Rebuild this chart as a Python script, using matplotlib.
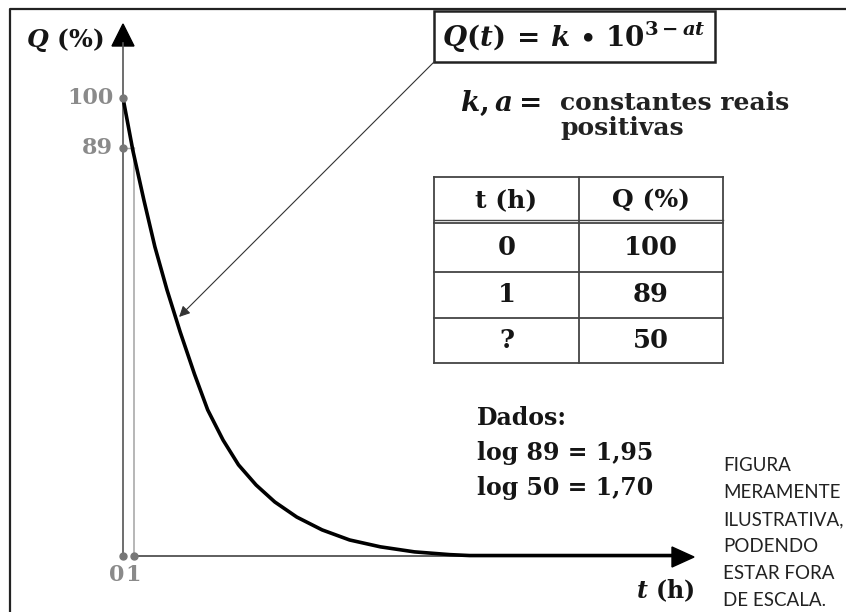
import matplotlib
matplotlib.use("Agg")
import matplotlib.pyplot as plt
import matplotlib.transforms as mtransforms
from matplotlib.patches import Polygon, Rectangle

# curve (t in hours, Q in %)
t_hours = [0, 0.9, 1.9, 2.9, 4.0, 5.2, 6.5, 7.7, 9.1, 10.5, 12.1, 13.8, 15.8,
           18.1, 20.6, 23.4, 26.5, 29.7, 31.5, 50.2]
q_pct = [100, 88.5, 77.7, 67.5, 58.1, 48.9, 39.7, 31.9, 25.3, 19.9, 15.5, 11.8,
         8.5, 5.7, 3.5, 2.0, 0.9, 0.3, 0.1, 0.1]

ytick_vals = [100, 89]
ytick_labels = ["100", "89"]
xtick_vals = [0, 1]
xtick_labels = ["0", "1"]

table_header = ["t (h)", "Q (%)"]
table_t = ["0", "1", "?"]
table_q = ["100", "89", "50"]

dados_lines = ["Dados:", "log 89 = 1,95", "log 50 = 1,70"]
aviso = "FIGURA\nMERAMENTE\nILUSTRATIVA,\nPODENDO\nESTAR FORA\nDE ESCALA."

serif = "DejaVu Serif"
plt.rcParams["mathtext.fontset"] = "custom"
plt.rcParams["mathtext.rm"] = serif + ":bold"
plt.rcParams["mathtext.bf"] = serif + ":bold"
plt.rcParams["mathtext.it"] = serif + ":bold:italic"

W, H = 846, 612
fig = plt.figure(figsize=(W / 100, H / 100), dpi=100)
ax = fig.add_axes([0, 0, 1, 1])
ax.set_axis_off()
# 11 px per hour, 4.58 px per percent, origin at pixel (123, 556)
ax.set_xlim(-123 / 11, (W - 123) / 11)
ax.set_ylim((556 - H) / 4.58, 556 / 4.58)

# pixel coords, y from top
pix = mtransforms.Affine2D().scale(1 / W, -1 / H).translate(0, 1) + fig.transFigure

gray = "#8a8a8a"
ink = "#151515"

# frame
ax.plot([10, 10, W], [H, 9, 9], color="#222", lw=1.6, transform=pix, clip_on=False)

# axes
ax.plot([0, 0], [0, 112], color="#555", lw=1.2, zorder=2)
ax.plot([1, 1], [0, 89], color="#aaa", lw=1.2, zorder=2)
ax.plot([0, 1], [89, 89], color="#aaa", lw=1.0, zorder=2)
ax.plot([1, 49], [0, 0], color="#333", lw=1.1, zorder=2)
ax.add_patch(Polygon([[123, 24], [112, 46], [134, 46]], closed=True, color="black",
                     transform=pix))
ax.add_patch(Polygon([[694, 557], [672, 547], [672, 567]], closed=True, color="black",
                     transform=pix))

# curve
ax.plot(t_hours, q_pct, color="black", lw=2.6, solid_capstyle="round",
        solid_joinstyle="round", zorder=3)

# tick markers and labels
ax.plot([0] * len(ytick_vals), ytick_vals, "o", ms=5, color="#777", zorder=4)
ax.plot(xtick_vals, [0, 0], "o", ms=5, color="#777", zorder=4)
for v, lab in zip(ytick_vals, ytick_labels):
    ax.annotate(lab, (0, v), xytext=(-7, 0), textcoords="offset points",
                ha="right", va="center", fontsize=16, fontweight="bold",
                family=serif, color=gray)
for v, lab, dx in zip(xtick_vals, xtick_labels, [-4.5, -1.0]):
    ax.annotate(lab, (v, 0), xytext=(dx, -14), textcoords="offset points",
                ha="center", va="center", fontsize=16, fontweight="bold",
                family=serif, color=gray)

# axis titles
ax.text(26, 40, r"$Q$ (%)", transform=pix, ha="left", va="center", fontsize=18,
        fontweight="bold", family=serif, color=ink)
ax.text(694, 591, r"$t$ (h)", transform=pix, ha="right", va="center", fontsize=17,
        fontweight="bold", family=serif, color=ink)

# formula box with arrow
ax.add_patch(Rectangle((434, 62), 281, -51, fill=False, lw=1.8, ec="#222",
                       transform=pix))
ax.text(574, 37, r"$Q(t)\,=\,k\,\bullet\,\mathbf{10}^{\mathbf{3}-at}$", transform=pix,
        ha="center", va="center", fontsize=20, color=ink)
ax.annotate("", xy=(5.1, 52.2), xycoords="data", xytext=(435, 61), textcoords=pix,
            arrowprops=dict(arrowstyle="-|>", color="#333", lw=0.8,
                            mutation_scale=16, shrinkA=0, shrinkB=0))

ax.text(460, 103, r"$k, a =$", transform=pix, ha="left", va="center", fontsize=20,
        color=ink)
ax.text(560, 103, "constantes reais", transform=pix, ha="left", va="center",
        fontsize=18, fontweight="bold", family=serif, color="#222")
ax.text(560, 128, "positivas", transform=pix, ha="left", va="center",
        fontsize=18, fontweight="bold", family=serif, color="#222")

# table
xs = [434, 579, 723]
ys = [177, 223, 272, 318, 363]
for x in xs:
    ax.plot([x, x], [ys[0], ys[-1]], color="#444", lw=1.3, transform=pix)
for y in ys:
    ax.plot([xs[0], xs[-1]], [y, y], color="#444", lw=1.3, transform=pix)
ax.plot([xs[0], xs[-1]], [ys[1] - 3, ys[1] - 3], color="#444", lw=1.0, transform=pix)
cx = [(xs[0] + xs[1]) / 2, (xs[1] + xs[2]) / 2]
for j, lab in enumerate(table_header):
    ax.text(cx[j], (ys[0] + ys[1]) / 2, lab, transform=pix, ha="center", va="center",
            fontsize=18, fontweight="bold", family=serif, color=ink)
for i, (a, b) in enumerate(zip(table_t, table_q)):
    yc = (ys[i + 1] + ys[i + 2]) / 2
    ax.text(cx[0], yc, a, transform=pix, ha="center", va="center",
            fontsize=18.5, fontweight="bold", family=serif, color=ink)
    ax.text(cx[1], yc, b, transform=pix, ha="center", va="center",
            fontsize=18.5, fontweight="bold", family=serif, color=ink)

# data box
for i, line in enumerate(dados_lines):
    ax.text(477, 418 + i * 35, line, transform=pix, ha="left", va="center",
            fontsize=17, fontweight="bold", family=serif, color=ink)

ax.text(723, 533, aviso, transform=pix, ha="left", va="center", fontsize=13.5,
        family="Lato", linespacing=1.72, color="#222")

fig.savefig("out.png", dpi=100)
